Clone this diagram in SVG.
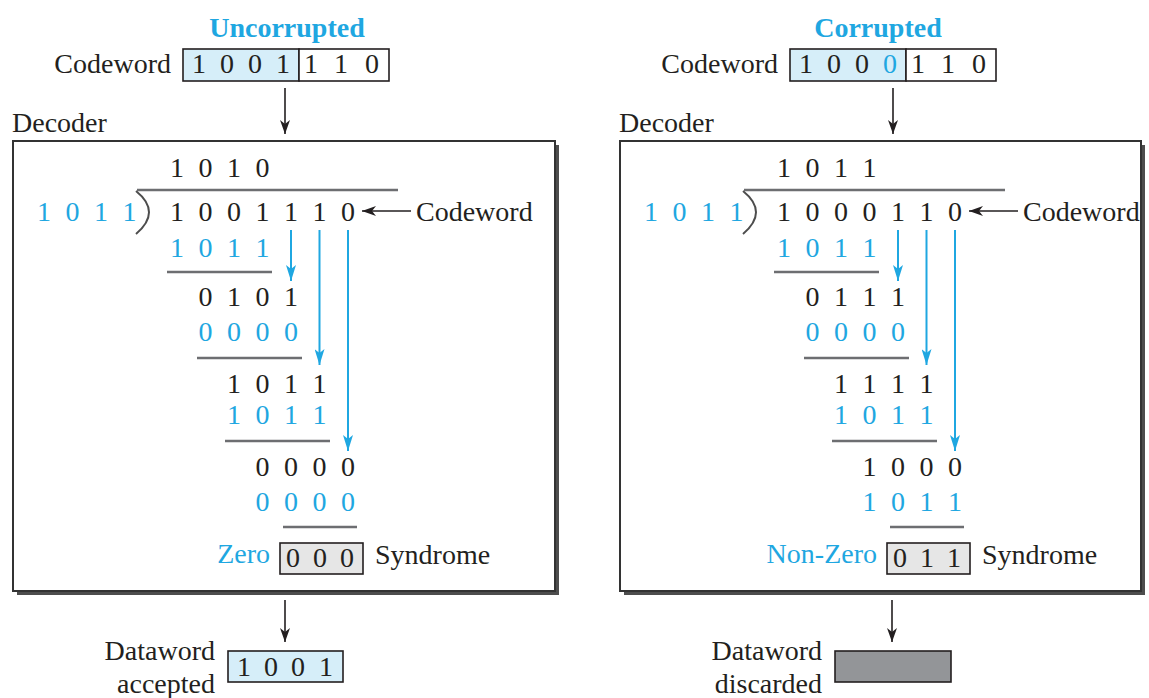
<svg xmlns="http://www.w3.org/2000/svg" width="1149" height="698" viewBox="0 0 1149 698">
  <style>
    .t { font-family: "Liberation Serif", "Times New Roman", serif; font-size: 28px; fill: #231f20; }
    .m { text-anchor: middle; }
    .e { text-anchor: end; }
    .c { fill: #1fa7e1; }
    .b { font-weight: bold; }
    .rule { stroke: #6d6e71; stroke-width: 2.5; fill: none; }
    .cy { stroke: #1fa7e1; stroke-width: 2; fill: none; }
    .bk { stroke: #231f20; stroke-width: 1.6; fill: none; }
    .box { stroke: #231f20; stroke-width: 1.6; }
    .shadow { fill: #4d4d4d; }
    .frame { fill: #ffffff; stroke: #333333; stroke-width: 2; }
  </style>
  <defs>
    <marker id="ahBlack" viewBox="0 0 14 10" refX="14" refY="5" markerWidth="14" markerHeight="10" markerUnits="userSpaceOnUse" orient="auto">
      <path d="M0,0 L14,5 L0,10 L4,5 z" fill="#231f20"/>
    </marker>
    <marker id="ahCyan" viewBox="0 0 16 10" refX="16" refY="5" markerWidth="16" markerHeight="10" markerUnits="userSpaceOnUse" orient="auto">
      <path d="M0,0 L16,5 L0,10 L4,5 z" fill="#1fa7e1"/>
    </marker>
  </defs>

  <rect width="1149" height="698" fill="#ffffff"/>

  <!-- ===== Left: uncorrupted codeword ===== -->
  <g id="left">
    <g id="left-input">
      <text class="t c b m" x="287" y="37">Uncorrupted</text>
      <text class="t e" x="171" y="73">Codeword</text>
      <rect x="183" y="49" width="116" height="32" fill="#d6eef9" class="box"/>
      <rect x="299" y="49" width="90" height="32" fill="#ffffff" class="box"/>
      <text class="t m" x="199 227 255 283" y="73">1001</text>
      <text class="t m" x="311 341 372" y="73">110</text>
    </g>

    <g id="left-decoder">
      <text class="t" x="12" y="132">Decoder</text>
      <rect class="shadow" x="17" y="145" width="542" height="450"/>
      <rect class="frame" x="13" y="141" width="542" height="450"/>

      <!-- long division -->
      <text class="t m" x="177 205.5 234 262.5" y="177">1010</text>
      <path class="rule" d="M137,190 L398,190"/>
      <path d="M136,191 Q162,212 136,234" fill="none" stroke="#4d4d4d" stroke-width="2"/>
      <text class="t c m" x="44 72.5 101 129.5" y="221">1011</text>
      <text class="t m" x="177 205.5 234 262.5 291 319.5 348" y="221">1001110</text>
      <text class="t" x="416" y="221">Codeword</text>

      <text class="t c m" x="177 205.5 234 262.5" y="257">1011</text>
      <path class="rule" d="M167,272 L272,272"/>
      <text class="t m" x="205.5 234 262.5 291" y="306">0101</text>
      <text class="t c m" x="205.5 234 262.5 291" y="341">0000</text>
      <path class="rule" d="M197,358 L302,358"/>
      <text class="t m" x="234 262.5 291 319.5" y="393">1011</text>
      <text class="t c m" x="234 262.5 291 319.5" y="424">1011</text>
      <path class="rule" d="M225,441 L330,441"/>
      <text class="t m" x="262.5 291 319.5 348" y="476">0000</text>
      <text class="t c m" x="262.5 291 319.5 348" y="511">0000</text>
      <path class="rule" d="M283,527 L357,527"/>

      <text class="t c e" x="270" y="563">Zero</text>
      <rect x="280" y="543" width="83" height="31" fill="#e6e6e6" class="box"/>
      <text class="t m" x="293 320 347" y="567">000</text>
      <text class="t" x="375" y="564">Syndrome</text>
    </g>

    <g id="left-output">
      <text class="t e" x="215" y="660">Dataword</text>
      <text class="t e" x="215" y="693">accepted</text>
      <rect x="228" y="651" width="115" height="31" fill="#d6eef9" class="box"/>
      <text class="t m" x="244 271 298 326" y="676">1001</text>
    </g>

    <g id="left-connectors">
      <path class="bk" d="M285,88 L285,134" marker-end="url(#ahBlack)"/>
      <path class="bk" d="M411,211 L362,211" marker-end="url(#ahBlack)"/>
      <path class="cy" d="M291,230 L291,281" marker-end="url(#ahCyan)"/>
      <path class="cy" d="M319.5,230 L319.5,365" marker-end="url(#ahCyan)"/>
      <path class="cy" d="M348,230 L348,451" marker-end="url(#ahCyan)"/>
      <path class="bk" d="M285,600 L285,642" marker-end="url(#ahBlack)"/>
    </g>
  </g>

  <!-- ===== Right: corrupted codeword ===== -->
  <g id="right" transform="translate(607,0)">
    <g id="right-input">
      <text class="t c b m" x="271" y="37">Corrupted</text>
      <text class="t e" x="171" y="73">Codeword</text>
      <rect x="183" y="49" width="116" height="32" fill="#d6eef9" class="box"/>
      <rect x="299" y="49" width="90" height="32" fill="#ffffff" class="box"/>
      <text class="t m" x="199 227 255" y="73">100</text>
      <text class="t c m" x="283" y="73">0</text>
      <text class="t m" x="311 341 372" y="73">110</text>
    </g>

    <g id="right-decoder">
      <text class="t" x="12" y="132">Decoder</text>
      <rect class="shadow" x="17" y="145" width="521" height="450"/>
      <rect class="frame" x="13" y="141" width="521" height="450"/>

      <text class="t m" x="177 205.5 234 262.5" y="177">1011</text>
      <path class="rule" d="M137,190 L398,190"/>
      <path d="M136,191 Q162,212 136,234" fill="none" stroke="#4d4d4d" stroke-width="2"/>
      <text class="t c m" x="44 72.5 101 129.5" y="221">1011</text>
      <text class="t m" x="177 205.5 234 262.5 291 319.5 348" y="221">1000110</text>
      <text class="t" x="416" y="221">Codeword</text>

      <text class="t c m" x="177 205.5 234 262.5" y="257">1011</text>
      <path class="rule" d="M167,272 L272,272"/>
      <text class="t m" x="205.5 234 262.5 291" y="306">0111</text>
      <text class="t c m" x="205.5 234 262.5 291" y="341">0000</text>
      <path class="rule" d="M197,358 L302,358"/>
      <text class="t m" x="234 262.5 291 319.5" y="393">1111</text>
      <text class="t c m" x="234 262.5 291 319.5" y="424">1011</text>
      <path class="rule" d="M225,441 L330,441"/>
      <text class="t m" x="262.5 291 319.5 348" y="476">1000</text>
      <text class="t c m" x="262.5 291 319.5 348" y="511">1011</text>
      <path class="rule" d="M283,527 L357,527"/>

      <text class="t c e" x="270" y="563">Non-Zero</text>
      <rect x="280" y="543" width="83" height="31" fill="#e6e6e6" class="box"/>
      <text class="t m" x="293 320 347" y="567">011</text>
      <text class="t" x="375" y="564">Syndrome</text>
    </g>

    <g id="right-output">
      <text class="t e" x="215" y="660">Dataword</text>
      <text class="t e" x="215" y="693">discarded</text>
      <rect x="228" y="651" width="116" height="31" fill="#939598" class="box"/>
    </g>

    <g id="right-connectors">
      <path class="bk" d="M286,88 L286,134" marker-end="url(#ahBlack)"/>
      <path class="bk" d="M411,211 L362,211" marker-end="url(#ahBlack)"/>
      <path class="cy" d="M291,230 L291,281" marker-end="url(#ahCyan)"/>
      <path class="cy" d="M319.5,230 L319.5,365" marker-end="url(#ahCyan)"/>
      <path class="cy" d="M348,230 L348,451" marker-end="url(#ahCyan)"/>
      <path class="bk" d="M285,600 L285,642" marker-end="url(#ahBlack)"/>
    </g>
  </g>
</svg>
